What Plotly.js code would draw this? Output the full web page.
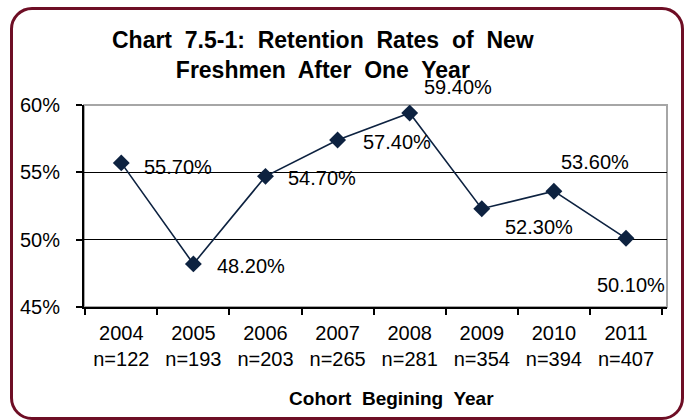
<!DOCTYPE html>
<html>
<head>
<meta charset="utf-8">
<script src="https://cdn.plot.ly/plotly-3.0.1.min.js"></script>
<style>
  html, body { margin: 0; padding: 0; background: #ffffff; }
  #frame { position: absolute; left: 10px; top: 7px; width: 674px; height: 413px;
           box-sizing: border-box; border: 3px solid #6E0E25; border-radius: 22px; }
  #chart { position: absolute; left: 0; top: 0; width: 684px; height: 420px; }
</style>
</head>
<body>
<div id="frame"></div>
<div id="chart"></div>
<script>
const years = ['2004', '2005', '2006', '2007', '2008', '2009', '2010', '2011'];
const cohortSizes = [122, 193, 203, 265, 281, 354, 394, 407];
const retentionRates = [55.7, 48.2, 54.7, 57.4, 59.4, 52.3, 53.6, 50.1];
const tickLabels = years.map((y, i) => y + '<br>n=' + cohortSizes[i]);

// label offsets (px) relative to each point, mimicking the original manual placement
const labelDx = [21, 22, 21, 23, 12, 21, 5, -31];
const labelDy = [-4, -2, -2, -2, 26, -18, 29, -47];

const lineColor = '#0D2240';

const trace = {
  type: 'scatter',
  mode: 'lines+markers',
  x: tickLabels,
  y: retentionRates,
  line: { color: lineColor, width: 1.6 },
  marker: { symbol: 'diamond', size: 13, color: lineColor },
  hoverinfo: 'skip'
};

const annotations = retentionRates.map((v, i) => ({
  x: tickLabels[i], y: v, xref: 'x', yref: 'y',
  text: v.toFixed(2) + '%',
  showarrow: false,
  xanchor: 'left', yanchor: 'middle',
  xshift: labelDx[i], yshift: labelDy[i],
  font: { family: 'Liberation Sans, Arial, sans-serif', size: 20, color: '#000000' }
}));

const NB = '\u00A0';
const layout = {
  width: 684, height: 420,
  margin: { l: 84, r: 17, t: 105, b: 113 },
  paper_bgcolor: 'rgba(0,0,0,0)',
  plot_bgcolor: '#ffffff',
  showlegend: false,
  font: { family: 'Liberation Sans, Arial, sans-serif', size: 20, color: '#000000' },
  title: {
    text: '<b>Chart' + NB + ' 7.5-1:' + NB + ' Retention' + NB + ' Rates' + NB + ' of' + NB + ' New<br>Freshmen' + NB + ' After' + NB + ' One' + NB + ' Year</b>',
    font: { family: 'Liberation Sans, Arial, sans-serif', size: 23, color: '#000000' },
    xref: 'container', x: 0.472, xanchor: 'center',
    yref: 'container', y: 1 - 48 / 420, yanchor: 'top'
  },
  xaxis: {
    type: 'category',
    showline: true, linecolor: '#000000', linewidth: 2,
    ticks: 'outside', ticklen: 6, tickwidth: 2, tickcolor: '#000000',
    tickson: 'boundaries',
    ticklabelstandoff: 7,
    showgrid: false, zeroline: false,
    tickfont: { size: 20 },
    title: {
      text: '<b>' + NB.repeat(6) + 'Cohort' + NB + ' Begining' + NB + ' Year</b>',
      font: { family: 'Liberation Sans, Arial, sans-serif', size: 19, color: '#000000' },
      standoff: 23
    }
  },
  yaxis: {
    range: [45, 60],
    tickvals: [45, 50, 55, 60],
    ticktext: ['45%', '50%', '55%', '60%'],
    showline: true, linecolor: '#000000', linewidth: 2,
    ticks: 'outside', ticklen: 6, tickwidth: 2, tickcolor: '#000000',
    ticklabelstandoff: 12,
    showgrid: true, gridcolor: '#000000', gridwidth: 1.6,
    zeroline: false,
    tickfont: { size: 20 }
  },
  shapes: [{
    type: 'rect', xref: 'paper', yref: 'paper', x0: 0, x1: 1, y0: 0, y1: 1,
    line: { color: '#A6A6A6', width: 2 }, layer: 'below'
  }],
  annotations: annotations
};

Plotly.newPlot('chart', [trace], layout, { staticPlot: true, displayModeBar: false });
</script>
</body>
</html>
